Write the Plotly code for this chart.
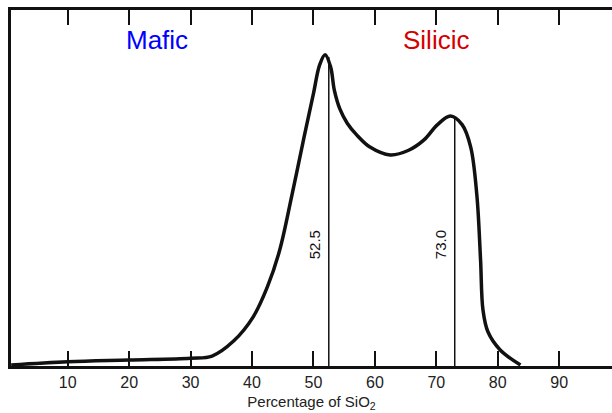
import plotly.graph_objects as go

# Curve (SiO2 %, relative frequency)
sio2 = [0.8, 10, 20, 30, 33.5, 37, 40.2, 42.5, 44.5, 46.5, 48.5, 50.0, 51.0, 51.9, 52.8,
        53.4, 54.3, 55.5, 57.0, 59.2, 62.5, 65.5, 68.0, 70.2, 72.3, 74.2, 75.6, 76.6,
        77.2, 77.6, 78.4, 80.4, 83.7]
freq = [0.3, 1.2, 1.7, 2.2, 2.8, 7.0, 13.8, 22.2, 32.5, 48.0, 64.5, 76.5, 84.5, 87.4,
        84.0, 77.5, 72.2, 68.2, 65.0, 61.5, 59.3, 60.6, 63.5, 67.8, 70.2, 67.8, 61.5,
        48.0, 30.0, 15.7, 9.6, 4.5, 0.3]

peak_x = [52.5, 73.0]
peak_y = [86.8, 69.9]
peak_labels = ["52.5", "73.0"]

tick_vals = [10, 20, 30, 40, 50, 60, 70, 80, 90]

fig = go.Figure()
fig.add_trace(go.Scatter(x=sio2, y=freq, mode="lines",
                         line=dict(color="#111111", width=3.5, shape="spline", smoothing=1.0),
                         hoverinfo="skip", showlegend=False))
for px, py in zip(peak_x, peak_y):
    fig.add_trace(go.Scatter(x=[px, px], y=[0, py], mode="lines",
                             line=dict(color="#111111", width=1.5),
                             hoverinfo="skip", showlegend=False))
for px, lab in zip(peak_x, peak_labels):
    fig.add_annotation(x=px, y=34, xref="x", yref="y", text=lab, showarrow=False,
                       textangle=-90, xanchor="right", xshift=-3,
                       font=dict(family="Liberation Sans, Arial", size=15, color="#111111"))

fig.add_annotation(x=24.6, y=91.5, xref="x", yref="y", text="Mafic", showarrow=False,
                   font=dict(family="Liberation Sans, Arial", size=26, color="#0000ff"))
fig.add_annotation(x=70.0, y=91.5, xref="x", yref="y", text="Silicic", showarrow=False,
                   font=dict(family="Liberation Sans, Arial", size=26, color="#d40000"))

fig.update_layout(
    width=612, height=413,
    margin=dict(l=11, r=0, t=10, b=47),
    paper_bgcolor="white", plot_bgcolor="white",
    showlegend=False,
    xaxis=dict(range=[0.77, 98.6], tickvals=tick_vals, ticks="inside", ticklen=15,
               tickwidth=1.5, tickcolor="#111111", showline=True, linecolor="#111111",
               linewidth=2.5, mirror="ticks", showgrid=False, zeroline=False,
               tickfont=dict(family="Liberation Sans, Arial", size=16, color="#222222"),
               title=dict(text="Percentage of SiO<sub>2</sub>", standoff=7,
                          font=dict(family="Liberation Sans, Arial", size=15, color="#222222"))),
    yaxis=dict(range=[0, 100], showticklabels=False, ticks="", showline=True,
               linecolor="#111111", linewidth=2.5, showgrid=False, zeroline=False),
)

fig.write_html("out.html")
